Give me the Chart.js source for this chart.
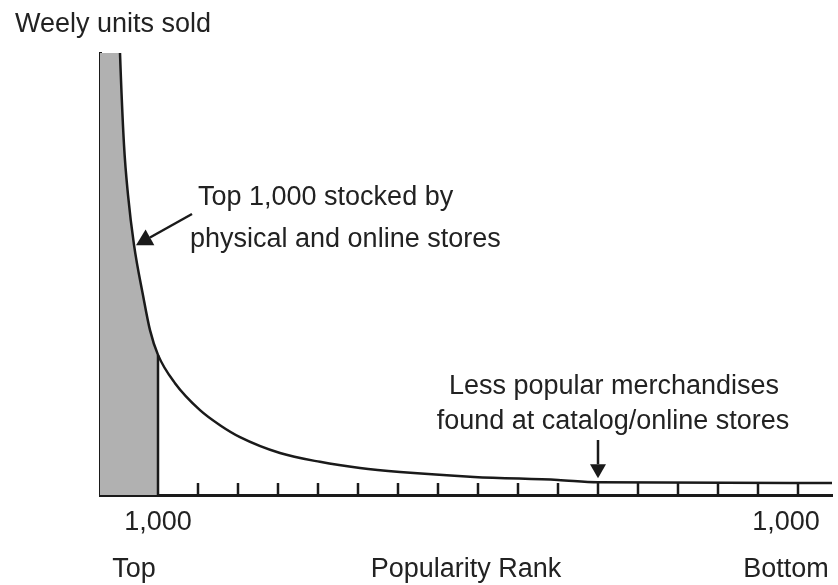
<!DOCTYPE html>
<html>
<head>
<meta charset="utf-8">
<script src="https://cdn.jsdelivr.net/npm/chart.js@4.4.1/dist/chart.umd.min.js"></script>
<style>
  html, body { margin: 0; padding: 0; background: #fff; }
  #wrap { width: 838px; height: 585px; }
</style>
</head>
<body>
<div id="wrap"><canvas id="myChart" width="838" height="585"></canvas></div>
<script>
// popularity rank (arbitrary units, 0 = rank 1,000 cut-off) and weekly units sold
var rankValues = [-1.0, -0.95, -0.85, -0.75, -0.6, -0.375, -0.2, 0, 0.425, 1.05, 1.55, 2.05, 3.05, 4.05, 5.05, 6.05, 7.9, 10, 11, 16.85];
var unitsSold  = [115, 100, 79.2, 67.9, 56.6, 45.2, 37.3, 31.7, 25.3, 19.2, 15.8, 13.1, 9.5, 7.5, 6.1, 5.2, 4.1, 3.4, 2.9, 2.7];

var rankMin = -1.45;
var rankMax = 16.85;
var cutoffRank = 0;
var tickRanks = [1, 2, 3, 4, 5, 6, 7, 8, 9, 10, 11, 12, 13, 14, 15, 16];
var tickLabelRanks = [0, 15.7];
var tickLabels = ['1,000', '1,000'];
var endLabelRanks = [-0.6, 7.7, 15.7];
var endLabels = ['Top', 'Popularity Rank', 'Bottom'];

var curve = rankValues.map(function (r, i) { return { x: r, y: unitsSold[i] }; });
var shaded = [{ x: rankMin, y: 130 }].concat(curve.filter(function (p) { return p.x <= cutoffRank; }));

var FONT = '27px "Liberation Sans", Arial, sans-serif';
var INK = '#1a1a1a';

function arrow(ctx, x1, y1, x2, y2, head, width) {
    var a = Math.atan2(y2 - y1, x2 - x1);
    var bx = x2 - head * Math.cos(a), by = y2 - head * Math.sin(a);
    ctx.beginPath();
    ctx.moveTo(x1, y1);
    ctx.lineTo(bx, by);
    ctx.stroke();
    ctx.beginPath();
    ctx.moveTo(x2, y2);
    ctx.lineTo(bx + width * Math.sin(a), by - width * Math.cos(a));
    ctx.lineTo(bx - width * Math.sin(a), by + width * Math.cos(a));
    ctx.closePath();
    ctx.fill();
}

var decorations = {
    id: 'decorations',
    afterDraw: function (chart) {
        var ctx = chart.ctx;
        var xs = chart.scales.x, ys = chart.scales.y;
        var base = ys.getPixelForValue(0);
        ctx.save();
        ctx.strokeStyle = INK;
        ctx.fillStyle = INK;

        // inner tick marks
        ctx.lineWidth = 2.5;
        tickRanks.forEach(function (r) {
            var px = xs.getPixelForValue(r);
            ctx.beginPath();
            ctx.moveTo(px, base);
            ctx.lineTo(px, base - 12);
            ctx.stroke();
        });

        ctx.fillStyle = '#222';
        ctx.font = FONT;
        ctx.textBaseline = 'alphabetic';
        ctx.textAlign = 'center';
        tickLabelRanks.forEach(function (r, i) {
            ctx.fillText(tickLabels[i], xs.getPixelForValue(r), 530);
        });
        endLabelRanks.forEach(function (r, i) {
            ctx.fillText(endLabels[i], xs.getPixelForValue(r), 577);
        });

        ctx.textAlign = 'left';
        ctx.fillText('Weely units sold', 15, 32);
        ctx.fillText('Top 1,000 stocked by', 198, 205);
        ctx.fillText('physical and online stores', 190, 247);

        ctx.textAlign = 'center';
        ctx.fillText('Less popular merchandises', 614, 394);
        ctx.fillText('found at catalog/online stores', 613, 429);

        ctx.fillStyle = INK;
        ctx.lineWidth = 2.5;
        arrow(ctx, 192, 214, xs.getPixelForValue(-0.55), ys.getPixelForValue(56.5), 16, 9);
        arrow(ctx, xs.getPixelForValue(11), 440, xs.getPixelForValue(11), ys.getPixelForValue(3.8), 14, 8);
        ctx.restore();
    }
};

var ctx = document.getElementById('myChart').getContext('2d');
var myChart = new Chart(ctx, {
    type: 'scatter',
    data: {
        datasets: [{
            data: shaded,
            showLine: true,
            fill: 'origin',
            backgroundColor: '#b1b1b1',
            borderWidth: 0,
            pointRadius: 0,
            cubicInterpolationMode: 'monotone',
            order: 3
        }, {
            data: [{ x: cutoffRank, y: 0 }, { x: cutoffRank, y: 31.7 }],
            showLine: true,
            borderColor: INK,
            borderWidth: 2.5,
            pointRadius: 0,
            order: 2
        }, {
            data: curve,
            showLine: true,
            fill: false,
            borderColor: INK,
            borderWidth: 2.5,
            pointRadius: 0,
            cubicInterpolationMode: 'monotone',
            order: 1
        }]
    },
    options: {
        responsive: false,
        animation: false,
        events: [],
        layout: { padding: { left: 100, right: 6, top: 53, bottom: 90 } },
        plugins: { legend: { display: false }, tooltip: { enabled: false } },
        scales: {
            x: {
                type: 'linear', min: rankMin, max: rankMax,
                ticks: { display: false },
                grid: { display: false, drawTicks: false, tickLength: 0 },
                border: { display: true, color: INK, width: 3 }
            },
            y: {
                min: 0, max: 100,
                ticks: { display: false },
                grid: { display: false, drawTicks: false, tickLength: 0 },
                border: { display: true, color: INK, width: 3 }
            }
        }
    },
    plugins: [decorations]
});
</script>
</body>
</html>
